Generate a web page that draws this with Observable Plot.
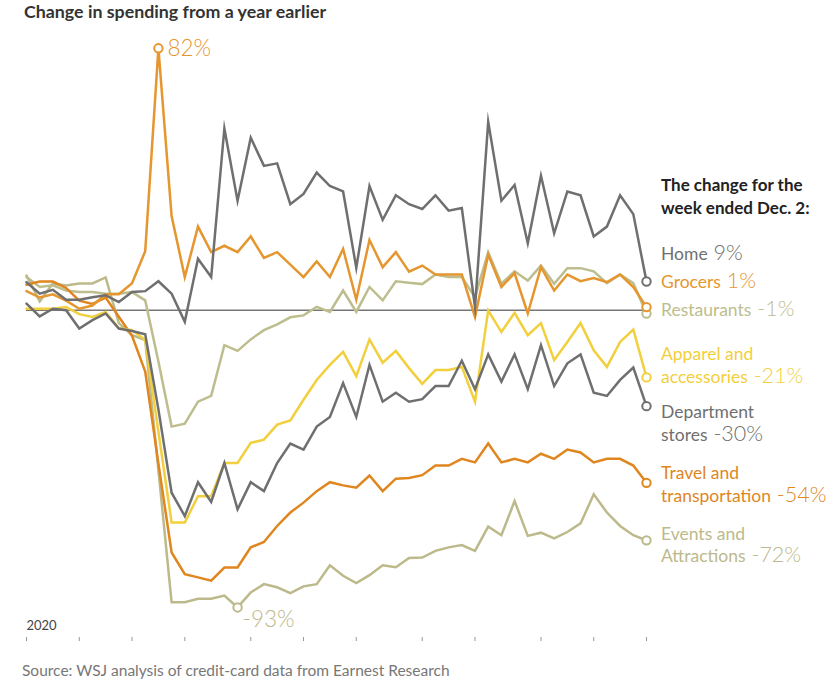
<!DOCTYPE html>
<html>
<head>
<meta charset="utf-8">
<script src="https://cdn.jsdelivr.net/npm/d3@7"></script>
<script src="https://cdn.jsdelivr.net/npm/@observablehq/plot@0.6"></script>
<style>
  body { margin: 0; background: #fff; font-family: Lato, "Noto Sans", sans-serif; }
  #wrap { position: relative; width: 840px; height: 686px; overflow: hidden; }
  #title { position: absolute; left: 24px; top: 0; font-size: 17.8px; font-weight: 700; color: #333; line-height: 22px; white-space: nowrap; }
  #chart { position: absolute; left: 0; top: 24px; }
  #source { position: absolute; left: 22px; top: 661px; font-size: 15.5px; color: #777; line-height: 18px; white-space: nowrap; }
  svg text { font-family: Lato, "Noto Sans", sans-serif; }
</style>
</head>
<body>
<div id="wrap">
  <div id="title">Change in spending from a year earlier</div>
  <div id="chart"></div>
  <div id="source">Source: WSJ analysis of credit-card data from Earnest Research</div>
</div>
<script>
// Week-ending dates (Wednesdays), 2020
const weeks = [
  "2020-01-08","2020-01-15","2020-01-22","2020-01-29",
  "2020-02-05","2020-02-12","2020-02-19","2020-02-26",
  "2020-03-04","2020-03-11","2020-03-18","2020-03-25",
  "2020-04-01","2020-04-08","2020-04-15","2020-04-22","2020-04-29",
  "2020-05-06","2020-05-13","2020-05-20","2020-05-27",
  "2020-06-03","2020-06-10","2020-06-17","2020-06-24",
  "2020-07-01","2020-07-08","2020-07-15","2020-07-22","2020-07-29",
  "2020-08-05","2020-08-12","2020-08-19","2020-08-26",
  "2020-09-02","2020-09-09","2020-09-16","2020-09-23","2020-09-30",
  "2020-10-07","2020-10-14","2020-10-21","2020-10-28",
  "2020-11-04","2020-11-11","2020-11-18","2020-11-25",
  "2020-12-02"
];

// First week of each month, used for the axis ticks
const tickWeeks = [
  "2020-01-08","2020-02-05","2020-03-04","2020-04-01","2020-05-06","2020-06-03",
  "2020-07-01","2020-08-05","2020-09-02","2020-10-07","2020-11-04","2020-12-02"
];

// Percent change in spending from a year earlier
const home = [8.8, 5.2, 6.4, 3.3, 3.3, 4.1, 4.7, 2.6, 5.7, 6.0, 9.1, 5.2, -3.6, 16.1, 10.4, 56.9, 34.3, 54.0, 45.2, 46.0, 33.2, 36.4, 43.1, 38.9, 37.2, 13.3, 38.9, 28.3, 36.0, 33.2, 31.7, 36.0, 31.2, 32.0, 1.0, 59.0, 34.3, 39.2, 21.0, 42.1, 24.1, 37.2, 36.0, 23.1, 26.2, 36.0, 30.1, 9];
const grocers = [6, 4, 5, 3, 0.5, 1.5, 5, 5, 8.5, 18.5, 82, 29.5, 10.4, 26.2, 18.2, 20.2, 18.2, 23.1, 16.4, 18.2, 14.3, 10.4, 15.3, 10.4, 19.2, 3.3, 22.0, 13.5, 18.2, 12.1, 14.0, 11.2, 11.2, 11.2, -2.1, 17.4, 7.3, 11.6, -1.0, 13.5, 6.2, 11.2, 9.1, 10.1, 8.8, 11.2, 7.3, 1];
const restaurants = [10.4, 7.3, 7.8, 6.2, 5.7, 5.7, 5.2, 5.2, 5.7, 3.1, -16, -36.4, -35.5, -28.6, -26.8, -10.9, -12.7, -9.1, -6.2, -4.4, -2.2, -1.6, 1.1, -0.5, 6.2, -0.5, 7.3, 3.1, 9.1, 8.6, 8.2, 11.2, 10.4, 10.4, 4.1, 18.2, 8.3, 12.2, 9.3, 14.0, 8.3, 13.2, 13.2, 12.2, 8.5, 11.2, 8.5, -1];
const apparel = [0.5, 0.5, 0.5, 1.0, -1.2, -2.1, -0.5, -5.6, -6.2, -9.3, -38, -66.4, -66.4, -58.2, -58.2, -47.8, -47.8, -41.5, -40.5, -35.8, -34.5, -28.0, -21.8, -17.1, -13.0, -20.6, -9.1, -16.4, -12.7, -18.1, -23.0, -18.7, -18.7, -17.7, -28.6, 0, -6.8, -0.8, -7.8, -4.0, -15.6, -9.9, -4.0, -12.5, -17.7, -9.9, -6.0, -21];
const department = [2.1, -1.9, 0.5, 0, -5.7, -3.1, -1.0, -5.7, -6.5, -7.5, -31, -57.1, -64.4, -53.8, -60.0, -47.8, -62.3, -53.8, -56.6, -47.8, -41.7, -43.6, -36.4, -33.4, -22.8, -33.4, -17.1, -28.6, -25.8, -28.6, -27.8, -23.7, -23.7, -15.8, -24.7, -13.8, -22.3, -13.8, -24.7, -10.9, -23.7, -16.6, -13.8, -25.8, -26.8, -21.8, -17.9, -30];
const travel = [8, 9, 9, 7, 3, 2, 4, -2, -8, -19.2, -48, -75.8, -82.6, -83.6, -84.6, -80.5, -80.5, -74.2, -72.5, -67.5, -63.3, -60.2, -56.6, -53.8, -54.8, -55.5, -51.7, -56.6, -52.7, -52.5, -51.6, -48.6, -48.6, -46.5, -47.6, -41.7, -47.6, -46.5, -47.6, -44.9, -46.5, -43.6, -44.5, -47.6, -46.5, -46.5, -48.6, -54];
const events = [10.9, 2.8, 8.4, 7.8, 8.4, 8.4, 10.3, -4, -7.8, -9.3, -50, -91.4, -91.4, -90.3, -90.3, -89.3, -93, -88.3, -85.7, -86.7, -88.5, -86.4, -85.7, -79.8, -83.1, -85.4, -82.9, -79.8, -80.4, -77.5, -77.4, -75.3, -74.2, -73.5, -75.3, -67.7, -70.4, -59.7, -70.6, -69.6, -71.4, -69.4, -66.7, -57.6, -63.3, -67.5, -70.4, -72];

// Category names, their label lines at the right, and colours
const seriesNames = ["Events and Attractions", "Restaurants", "Travel and transportation", "Apparel and accessories", "Department stores", "Grocers", "Home"];
const seriesValues = [events, restaurants, travel, apparel, department, grocers, home];
const seriesColors = ["#bcb98b", "#bdbd8e", "#e0861f", "#f2cf3c", "#6f6f6f", "#e5962f", "#6f6f6f"];
const labelOrder = ["Home", "Grocers", "Restaurants", "Apparel and accessories", "Department stores", "Travel and transportation", "Events and Attractions"];
const labelLines = [["Home"], ["Grocers"], ["Restaurants"], ["Apparel and", "accessories"], ["Department", "stores"], ["Travel and", "transportation"], ["Events and", "Attractions"]];

const parse = d3.utcParse("%Y-%m-%d");
const rows = [];
seriesNames.forEach((name, s) => {
  seriesValues[s].forEach((v, i) => rows.push({week: parse(weeks[i]), value: v, series: name}));
});
const lastWeek = parse(weeks[weeks.length - 1]);
const lastRows = rows.filter(d => +d.week === +lastWeek);
const peak = rows.filter(d => d.series === "Grocers").reduce((a, b) => (b.value > a.value ? b : a));
const trough = rows.filter(d => d.series === "Events and Attractions").reduce((a, b) => (b.value < a.value ? b : a));
const colorOf = name => seriesColors[seriesNames.indexOf(name)];
const fmt = v => `${v}%`;

const svgTop = 24;                 // svg offset below the title
const yPx = v => 309.8 - 3.195 * v - svgTop;

const chart = Plot.plot({
  width: 840,
  height: 636,
  marginLeft: 26,
  marginRight: 194,
  marginTop: 0,
  marginBottom: 23,
  x: {type: "utc", domain: [parse(weeks[0]), lastWeek], range: [26, 646]},
  y: {domain: [-93, 82], range: [yPx(-93), yPx(82)], axis: null},
  color: {domain: seriesNames, range: seriesColors},
  marks: [
    Plot.ruleY([0], {stroke: "#767676", strokeWidth: 1.5}),
    Plot.line(rows, {x: "week", y: "value", z: "series", stroke: "series", strokeWidth: 2.5, strokeLinejoin: "miter", strokeMiterlimit: 10}),
    Plot.dot([...lastRows, peak, trough], {x: "week", y: "value", stroke: "series", fill: "white", r: 4.2, strokeWidth: 2}),
    Plot.text([peak], {x: "week", y: "value", text: d => fmt(d.value), fill: colorOf("Grocers"), textAnchor: "start", dx: 9, dy: 0, fontSize: 22.5, fontWeight: 300}),
    Plot.text([trough], {x: "week", y: "value", text: d => fmt(d.value), fill: colorOf("Events and Attractions"), textAnchor: "start", dx: 5, dy: 12, fontSize: 22.5, fontWeight: 300}),
    Plot.text(["2020"], {x: () => parse(weeks[0]), frameAnchor: "bottom", textAnchor: "start", lineAnchor: "bottom", dy: -8, fontSize: 13, fill: "#444"}),
    Plot.axisX({ticks: tickWeeks.map(parse), tickFormat: () => "", label: null, tickSize: 4, stroke: "#999", strokeWidth: 1})
  ]
});
document.getElementById("chart").appendChild(chart);

// Right-hand labels giving the latest week's change for each category
const svg = d3.select(chart);
const g = svg.append("g")
  .attr("transform", `translate(661,${-svgTop})`)
  .attr("text-anchor", "start");
const head = g.append("text").attr("fill", "#222").attr("font-weight", 700).attr("font-size", 17);
head.append("tspan").attr("x", 0).attr("y", 191).text("The change for the");
head.append("tspan").attr("x", 0).attr("y", 214).text("week ended Dec. 2:");

const baselines = [[260], [288], [315.5], [359.5, 383], [418, 441], [479, 502], [539.5, 562]];
labelOrder.forEach((name, k) => {
  const last = lastRows.find(d => d.series === name);
  const t = g.append("text").attr("fill", colorOf(name));
  labelLines[k].forEach((line, j) => {
    const isLast = j === labelLines[k].length - 1;
    t.append("tspan").attr("x", 0).attr("y", baselines[k][j]).attr("font-size", 17.5).text(line);
    if (isLast) t.append("tspan").attr("font-size", 21.5).attr("font-weight", 300).text(" " + fmt(last.value));
  });
});
</script>
</body>
</html>
